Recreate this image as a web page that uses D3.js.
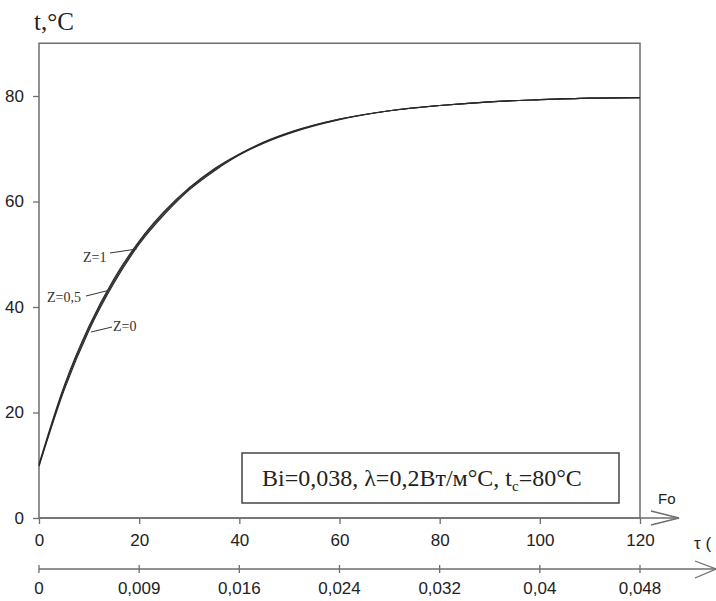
<!DOCTYPE html>
<html><head><meta charset="utf-8">
<script src="https://cdn.jsdelivr.net/npm/d3@7"></script>
<style>body{margin:0;background:#fff}svg{display:block}</style>
</head><body>
<script>
// Data
const tau = [0, 5, 10, 15, 20, 25, 30, 35, 40, 45, 50, 60, 70, 80, 90, 100, 110, 120];
const tZ1  = [10.2, 25.0, 36.4, 45.4, 52.5, 58.1, 62.6, 66.2, 69.0, 71.3, 73.1, 75.6, 77.2, 78.2, 78.9, 79.3, 79.6, 79.7];
const tZ05 = [10.0, 24.6, 36.0, 45.0, 52.2, 57.8, 62.4, 66.0, 68.9, 71.2, 73.0, 75.6, 77.2, 78.2, 78.9, 79.3, 79.6, 79.7];
const tZ0  = [9.8, 24.2, 35.6, 44.6, 51.9, 57.5, 62.2, 65.8, 68.8, 71.1, 72.9, 75.5, 77.2, 78.2, 78.9, 79.3, 79.6, 79.7];
const yTicks = [0, 20, 40, 60, 80];
const foTicks = [0, 20, 40, 60, 80, 100, 120];
const tauLabels = ["0", "0,009", "0,016", "0,024", "0,032", "0,04", "0,048"];
const zLabels = ["Z=1", "Z=0,5", "Z=0"];

const W = 716, H = 601;
const svg = d3.select("body").append("svg").attr("width", W).attr("height", H);
const x = d3.scaleLinear().domain([0, 120]).range([39, 640]);
const y = d3.scaleLinear().domain([0, 80]).range([518, 96]);
const gray = "#6e6e6e";
const sans = "'Liberation Sans', Arial, sans-serif";
const serif = "'Liberation Serif', 'Times New Roman', serif";

// frame
svg.append("rect").attr("x", x(0)).attr("y", y(90)).attr("width", x(120) - x(0)).attr("height", y(0) - y(90))
  .attr("fill", "none").attr("stroke", gray).attr("stroke-width", 1.5);

// y axis
const ya = svg.append("g").attr("transform", `translate(${x(0)},0)`)
  .call(d3.axisLeft(y).tickValues(yTicks).tickSize(6).tickPadding(9));
ya.select(".domain").remove();
ya.selectAll("line").attr("stroke", gray).attr("stroke-width", 1.3);
ya.selectAll("text").attr("font-family", sans).attr("font-size", 17).attr("fill", "#222");

// Fo axis
const fa = svg.append("g").attr("transform", `translate(0,${y(0)})`)
  .call(d3.axisBottom(x).tickValues(foTicks).tickSize(6).tickPadding(10));
fa.select(".domain").remove();
fa.selectAll("line").attr("stroke", gray).attr("stroke-width", 1.3);
fa.selectAll("text").attr("font-family", sans).attr("font-size", 17).attr("fill", "#222");
svg.append("line").attr("x1", x(0)).attr("x2", 679).attr("y1", y(0)).attr("y2", y(0)).attr("stroke", gray).attr("stroke-width", 1.5);
svg.append("path").attr("d", `M651,511 L679,${y(0)} L651,525`).attr("fill", "none").attr("stroke", gray).attr("stroke-width", 1.3);
svg.append("text").attr("x", 658).attr("y", 504).attr("font-family", sans).attr("font-size", 15).attr("fill", "#222").text("Fo");

// tau axis
const ay2 = 569;
svg.append("line").attr("x1", x(0)).attr("x2", 716).attr("y1", ay2).attr("y2", ay2).attr("stroke", gray).attr("stroke-width", 1.5);
svg.append("path").attr("d", `M695,561 L716,${ay2} L695,578`).attr("fill", "none").attr("stroke", gray).attr("stroke-width", 1.3);
const ta = svg.append("g");
ta.selectAll("line").data(foTicks).join("line")
  .attr("x1", d => x(d)).attr("x2", d => x(d)).attr("y1", ay2 - 4).attr("y2", ay2 + 4)
  .attr("stroke", gray).attr("stroke-width", 1.3);
ta.selectAll("text").data(foTicks).join("text")
  .attr("x", d => x(d)).attr("y", 594).attr("text-anchor", "middle")
  .attr("font-family", sans).attr("font-size", 17).attr("fill", "#222")
  .text((d, i) => tauLabels[i]);
svg.append("text").attr("x", 694).attr("y", 549).attr("font-family", sans).attr("font-size", 17).attr("fill", "#222").text("τ (");

// y title
svg.append("text").attr("x", 34).attr("y", 30).attr("font-family", serif).attr("font-size", 25).attr("fill", "#222").text("t,°C");

// curves
const line = d3.line().x((d, i) => x(tau[i])).y(d => y(d)).curve(d3.curveMonotoneX);
[tZ0, tZ05, tZ1].forEach(s => {
  svg.append("path").attr("d", line(s)).attr("fill", "none").attr("stroke", "#2a2a2a").attr("stroke-width", 1.2);
});

// Z labels with leaders
const zl = svg.append("g").attr("font-family", serif).attr("font-size", 14).attr("fill", "#333");
zl.append("text").attr("x", 83).attr("y", 262).text(zLabels[0]);
zl.append("line").attr("x1", 110).attr("y1", 253).attr("x2", x(19.5)).attr("y2", 249).attr("stroke", "#333");
zl.append("text").attr("x", 47).attr("y", 302).text(zLabels[1]);
zl.append("line").attr("x1", 86).attr("y1", 296).attr("x2", x(14.2)).attr("y2", 290).attr("stroke", "#333");
zl.append("text").attr("x", 113).attr("y", 331).text(zLabels[2]);
zl.append("line").attr("x1", 112).attr("y1", 327).attr("x2", x(10.4)).attr("y2", 332).attr("stroke", "#333");

// legend box
svg.append("rect").attr("x", 242).attr("y", 453).attr("width", 377).attr("height", 50)
  .attr("fill", "#fff").attr("stroke", "#444").attr("stroke-width", 1.5);
const lt = svg.append("text").attr("x", 262).attr("y", 486).attr("font-family", serif).attr("font-size", 24).attr("fill", "#222");
lt.append("tspan").text("Bi=0,038, λ=0,2Вт/м°С, t");
lt.append("tspan").attr("font-size", 15).attr("dy", 5).text("c");
lt.append("tspan").attr("dy", -5).text("=80°С");
</script>
</body></html>
